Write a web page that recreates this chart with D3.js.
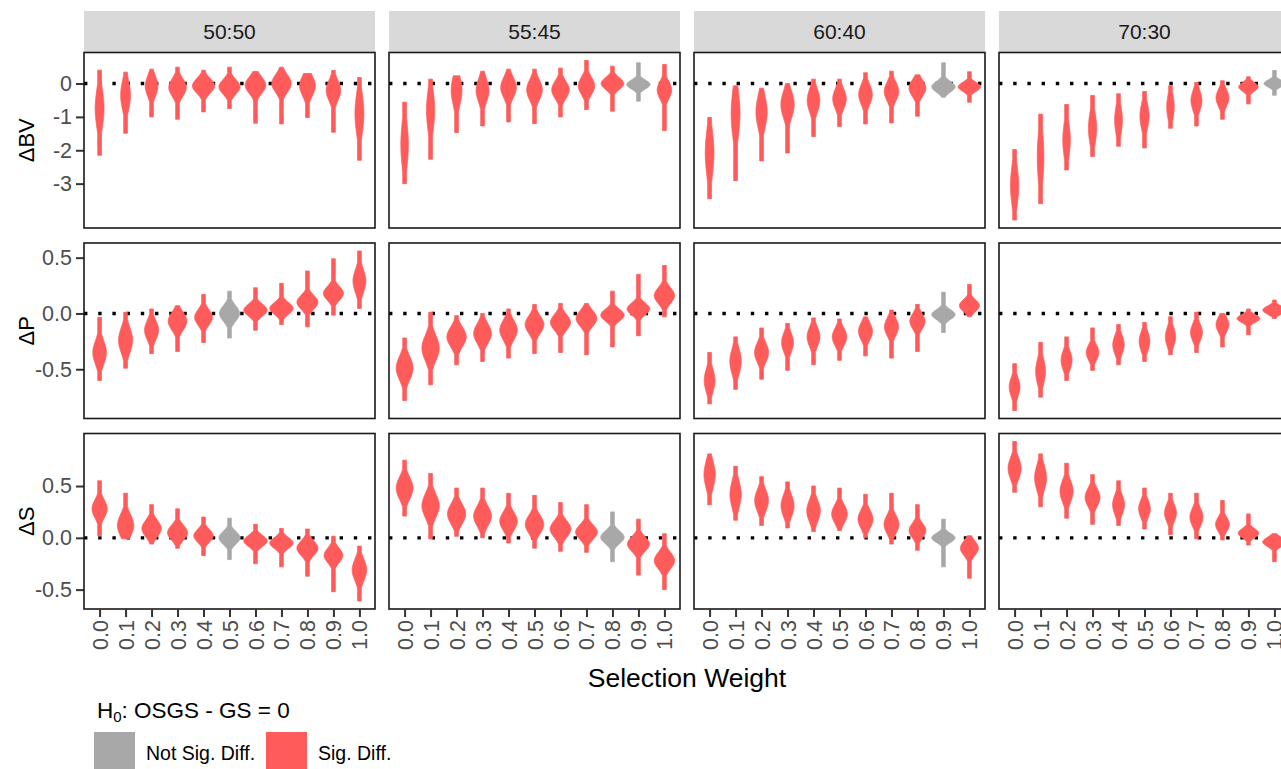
<!DOCTYPE html>
<html><head><meta charset="utf-8">
<script src="https://cdn.jsdelivr.net/npm/d3@7"></script>
<style>body{margin:0;background:#fff}svg{display:block}text{font-family:"Liberation Sans",Arial,sans-serif}</style>
</head><body><svg id="c" width="1281" height="769"></svg>
<script>
// ---------- data ----------
const ratios = ["50:50", "55:45", "60:40", "70:30"];
const weights = ["0.0","0.1","0.2","0.3","0.4","0.5","0.6","0.7","0.8","0.9","1.0"];
const measures = ["ΔBV", "ΔP", "ΔS"];
const bvTicks = [0, -1, -2, -3];
const bvTickLabels = ["0", "-1", "-2", "-3"];
const pTicks = [0.5, 0, -0.5];
const pTickLabels = ["0.5", "0.0", "-0.5"];
const sTicks = [0.5, 0, -0.5];
const sTickLabels = ["0.5", "0.0", "-0.5"];

// each violin: [min, max, mode, relative peak density, body half-spread]
const BV_5050 = [[-2.15,0.40,-0.75,0.38,0.65],[-1.49,0.34,-0.35,0.42,0.5],[-1.00,0.43,-0.08,0.54,0.35],[-1.07,0.49,-0.12,0.75,0.3],[-0.85,0.40,-0.07,0.95,0.25],[-0.75,0.49,-0.10,0.90,0.25],[-1.19,0.36,-0.05,0.88,0.28],[-1.21,0.49,0.00,0.83,0.3],[-1.02,0.30,-0.07,0.67,0.35],[-1.46,0.39,-0.21,0.62,0.35],[-2.30,0.18,-0.90,0.38,0.7]];
const BV_5545 = [[-3.00,-0.56,-1.83,0.32,0.8],[-2.27,0.13,-0.80,0.35,0.7],[-1.47,0.23,-0.21,0.46,0.5],[-1.27,0.37,-0.21,0.55,0.4],[-1.15,0.43,-0.12,0.67,0.35],[-1.20,0.43,-0.19,0.67,0.35],[-1.00,0.46,-0.19,0.75,0.3],[-0.78,0.69,-0.07,0.70,0.3],[-0.83,0.52,0.00,0.97,0.2],[-0.53,0.62,-0.03,1.00,0.15],[-1.41,0.57,-0.20,0.62,0.3]];
const BV_6040 = [[-3.45,-1.02,-2.08,0.37,0.8],[-2.91,-0.07,-0.90,0.38,0.8],[-2.32,-0.14,-0.85,0.48,0.55],[-2.08,0.00,-0.63,0.57,0.45],[-1.59,0.13,-0.51,0.54,0.4],[-1.29,0.13,-0.46,0.58,0.35],[-1.21,0.32,-0.33,0.58,0.35],[-1.18,0.37,-0.24,0.62,0.32],[-0.98,0.26,-0.14,0.72,0.28],[-0.41,0.62,-0.10,1.00,0.18],[-0.56,0.35,-0.10,0.96,0.15]];
const BV_7030 = [[-4.09,-1.98,-3.06,0.35,0.7],[-3.60,-0.92,-2.22,0.28,0.9],[-2.59,-0.63,-1.69,0.32,0.6],[-2.19,-0.36,-1.34,0.35,0.55],[-1.88,-0.31,-1.10,0.33,0.5],[-1.93,-0.24,-0.98,0.39,0.45],[-1.34,-0.07,-0.70,0.32,0.45],[-1.27,0.03,-0.51,0.47,0.35],[-1.07,0.08,-0.43,0.55,0.3],[-0.61,0.20,-0.10,0.83,0.15],[-0.35,0.39,0.00,0.90,0.12]];
const P_5050 = [[-0.60,-0.035,-0.35,0.58,0.12],[-0.49,0.01,-0.24,0.60,0.13],[-0.36,0.04,-0.15,0.60,0.10],[-0.34,0.07,-0.07,0.80,0.09],[-0.26,0.17,-0.035,0.76,0.08],[-0.22,0.20,0.00,0.86,0.08],[-0.15,0.23,0.03,1.00,0.06],[-0.10,0.27,0.045,1.00,0.06],[-0.12,0.38,0.10,0.90,0.07],[-0.015,0.49,0.18,0.86,0.07],[0.045,0.56,0.29,0.55,0.12]];
const P_5545 = [[-0.78,-0.22,-0.49,0.72,0.12],[-0.64,0.01,-0.31,0.74,0.13],[-0.46,-0.02,-0.21,0.83,0.10],[-0.43,0.00,-0.18,0.76,0.10],[-0.40,0.04,-0.15,0.75,0.10],[-0.36,0.08,-0.10,0.80,0.09],[-0.35,0.09,-0.08,0.86,0.08],[-0.37,0.09,-0.045,0.89,0.08],[-0.30,0.20,-0.015,1.00,0.06],[-0.20,0.35,0.04,0.97,0.06],[-0.03,0.43,0.16,0.87,0.08]];
const P_6040 = [[-0.81,-0.35,-0.60,0.46,0.12],[-0.68,-0.21,-0.43,0.49,0.13],[-0.59,-0.13,-0.35,0.60,0.10],[-0.51,-0.09,-0.26,0.51,0.10],[-0.46,-0.04,-0.21,0.55,0.10],[-0.42,-0.05,-0.21,0.62,0.09],[-0.38,-0.03,-0.16,0.60,0.09],[-0.40,0.03,-0.12,0.60,0.09],[-0.34,0.08,-0.07,0.65,0.08],[-0.17,0.19,-0.01,1.00,0.05],[-0.03,0.26,0.07,0.86,0.06]];
const P_7030 = [[-0.87,-0.45,-0.66,0.46,0.10],[-0.75,-0.26,-0.52,0.42,0.13],[-0.60,-0.21,-0.42,0.47,0.10],[-0.51,-0.13,-0.35,0.54,0.08],[-0.46,-0.10,-0.28,0.49,0.10],[-0.43,-0.08,-0.25,0.46,0.10],[-0.37,-0.03,-0.21,0.44,0.10],[-0.35,0.01,-0.17,0.51,0.09],[-0.30,0.00,-0.10,0.55,0.08],[-0.19,0.04,-0.045,0.97,0.04],[-0.045,0.12,0.03,1.00,0.04]];
const S_5050 = [[0.02,0.55,0.28,0.65,0.10],[-0.01,0.43,0.12,0.70,0.12],[-0.06,0.32,0.09,0.83,0.09],[-0.10,0.28,0.05,0.86,0.08],[-0.17,0.20,0.02,0.83,0.07],[-0.21,0.19,0.00,0.90,0.07],[-0.25,0.13,-0.03,1.00,0.06],[-0.28,0.09,-0.05,1.00,0.06],[-0.37,0.085,-0.10,0.90,0.08],[-0.52,0.015,-0.17,0.80,0.08],[-0.61,-0.08,-0.31,0.62,0.12]];
const S_5545 = [[0.21,0.75,0.48,0.72,0.12],[-0.01,0.62,0.31,0.74,0.13],[0.015,0.48,0.23,0.78,0.11],[0.00,0.48,0.21,0.76,0.11],[-0.05,0.43,0.16,0.75,0.10],[-0.10,0.41,0.13,0.79,0.10],[-0.13,0.34,0.085,0.89,0.09],[-0.14,0.32,0.055,0.93,0.08],[-0.23,0.25,0.005,1.00,0.07],[-0.36,0.18,-0.06,0.94,0.08],[-0.50,0.04,-0.22,0.87,0.09]];
const S_6040 = [[0.32,0.81,0.61,0.48,0.15],[0.17,0.69,0.42,0.48,0.15],[0.12,0.59,0.36,0.59,0.12],[0.095,0.54,0.31,0.56,0.12],[0.06,0.50,0.26,0.58,0.12],[0.07,0.48,0.23,0.67,0.10],[0.00,0.42,0.18,0.64,0.10],[-0.06,0.43,0.13,0.64,0.10],[-0.12,0.32,0.07,0.72,0.08],[-0.28,0.18,0.00,1.00,0.05],[-0.39,0.02,-0.10,0.77,0.08]];
const S_7030 = [[0.44,0.93,0.67,0.56,0.12],[0.30,0.81,0.58,0.51,0.14],[0.19,0.72,0.45,0.56,0.12],[0.13,0.61,0.39,0.64,0.10],[0.12,0.55,0.32,0.51,0.11],[0.085,0.48,0.28,0.50,0.10],[0.03,0.43,0.24,0.51,0.10],[-0.01,0.43,0.20,0.56,0.10],[-0.02,0.36,0.13,0.59,0.08],[-0.07,0.23,0.045,0.88,0.05],[-0.23,0.04,-0.04,1.00,0.05]];

// cells where H0 is not rejected: [measure index, ratio, weight]
const notSig = [[0,"55:45","0.9"],[0,"60:40","0.9"],[0,"70:30","1.0"],[1,"50:50","0.5"],[1,"60:40","0.9"],[2,"50:50","0.5"],[2,"55:45","0.8"],[2,"60:40","0.9"]];
const legendTitle = "OSGS - GS = 0";
const legendLabels = ["Not Sig. Diff.", "Sig. Diff."];

// ---------- assemble ----------
const rows = [
  {name: measures[0], panels: [BV_5050, BV_5545, BV_6040, BV_7030], ticks: bvTicks, labels: bvTickLabels},
  {name: measures[1], panels: [P_5050, P_5545, P_6040, P_7030], ticks: pTicks, labels: pTickLabels},
  {name: measures[2], panels: [S_5050, S_5545, S_6040, S_7030], ticks: sTicks, labels: sTickLabels}
];
const isNotSig = (r, ratio, w) => notSig.some(d => d[0] === r && d[1] === ratio && d[2] === w);

const colSig = "#ff5b5b", colNS = "#a8a8a8";
const svg = d3.select("#c");
const panelW = 291, colGap = 14, left0 = 84;
const rowTop = [52.5, 243, 433.5], panelH = 175.5;
const stripTop = 11;
const tickCol = "#333333", labCol = "#4d4d4d";
const FF = '"Liberation Sans",Arial,sans-serif';

// strips
ratios.forEach((r, c) => {
  const x0 = left0 + c * (panelW + colGap);
  svg.append("rect").attr("x", x0).attr("y", stripTop).attr("width", panelW).attr("height", rowTop[0] - stripTop).attr("fill", "#d9d9d9");
  svg.append("text").attr("x", x0 + panelW / 2).attr("y", (stripTop + rowTop[0]) / 2).attr("text-anchor", "middle")
    .attr("dominant-baseline", "central").attr("font-size", 21).attr("fill", "#1a1a1a").text(r);
});

const area = d3.area().curve(d3.curveLinear);

rows.forEach((row, ri) => {
  const all = row.panels.flat();
  const lo = d3.min(all, d => d[0]), hi = d3.max(all, d => d[1]);
  const pad = (hi - lo) * 0.05;
  const top = rowTop[ri], bot = top + panelH;
  const y = d3.scaleLinear().domain([lo - pad, hi + pad]).range([bot, top]);

  // y axis
  const ya = svg.append("g").attr("transform", `translate(${left0},0)`)
    .call(d3.axisLeft(y).tickValues(row.ticks).tickFormat((d, i) => row.labels[i]).tickSize(8).tickPadding(4));
  ya.select(".domain").remove();
  ya.selectAll(".tick line").attr("stroke", tickCol).attr("stroke-width", 2);
  ya.selectAll(".tick text").attr("fill", labCol).attr("font-size", 21.5).attr("font-family", FF);

  svg.append("text").attr("transform", `translate(26,${(top + bot) / 2}) rotate(-90)`).attr("text-anchor", "middle")
    .attr("dominant-baseline", "central").attr("font-size", 22).attr("fill", "#000").text(row.name);

  row.panels.forEach((vals, c) => {
    const x0 = left0 + c * (panelW + colGap);
    const x = d3.scalePoint().domain(weights).range([x0, x0 + panelW]).padding(0.6);
    const hwMax = x.step() * 0.45;
    const g = svg.append("g");
    // zero reference
    g.append("line").attr("x1", x0).attr("x2", x0 + panelW).attr("y1", y(0)).attr("y2", y(0))
      .attr("stroke", "#000").attr("stroke-width", 3.4).attr("stroke-dasharray", "3.4 10.8");
    vals.forEach((v, i) => {
      const [mn, mx, mode, dens, spread] = v;
      const sigma = spread * 1.05 / 1.1774;
      const n = 90;
      const pts = d3.range(n + 1).map(k => {
        const val = mn + (mx - mn) * k / n;
        const hw = Math.max(1.9, dens * hwMax * Math.exp(-0.5 * Math.pow((val - mode) / sigma, 2)));
        return [val, hw];
      });
      const cx = x(weights[i]);
      area.y(d => y(d[0])).x0(d => cx - d[1]).x1(d => cx + d[1]);
      const col = isNotSig(ri, ratios[c], weights[i]) ? colNS : colSig;
      g.append("path").attr("d", area(pts)).attr("fill", col).attr("stroke", col).attr("stroke-width", 0.8)
        .attr("stroke-linejoin", "round");
    });
    // border
    svg.append("rect").attr("x", x0).attr("y", top).attr("width", panelW).attr("height", panelH)
      .attr("fill", "none").attr("stroke", "#1a1a1a").attr("stroke-width", 1.6);
    // x axis on bottom row
    if (ri === rows.length - 1) {
      const xa = svg.append("g").attr("transform", `translate(0,${bot})`)
        .call(d3.axisBottom(x).tickSize(8).tickPadding(4));
      xa.select(".domain").remove();
      xa.selectAll(".tick line").attr("stroke", tickCol).attr("stroke-width", 2);
      xa.selectAll(".tick text").attr("fill", labCol).attr("font-size", 21.5).attr("font-family", FF)
        .attr("transform", "rotate(-90)").attr("text-anchor", "end").attr("dy", "0.35em").attr("x", -11).attr("y", 0);
    }
  });
});

// x title
svg.append("text").attr("x", left0 + (4 * panelW + 3 * colGap) / 2).attr("y", 687).attr("text-anchor", "middle")
  .attr("font-size", 26.5).attr("fill", "#000").text("Selection Weight");

// legend
const lt = svg.append("text").attr("x", 97).attr("y", 718).attr("font-size", 22.5).attr("fill", "#000");
lt.append("tspan").text("H");
lt.append("tspan").attr("font-size", 15).attr("dy", 4).text("0");
lt.append("tspan").attr("dy", -4).text(": " + legendTitle);
[colNS, colSig].forEach((col, i) => {
  const kx = 94 + i * 172;
  svg.append("rect").attr("x", kx).attr("y", 732).attr("width", 41).attr("height", 43).attr("fill", col);
  svg.append("text").attr("x", kx + 52).attr("y", 760).attr("font-size", 19.5).attr("fill", "#000").text(legendLabels[i]);
});
</script></body></html>
